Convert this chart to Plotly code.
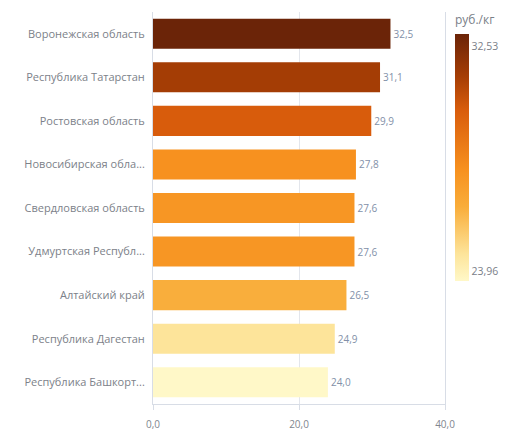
import plotly.graph_objects as go

regions = [
    "Воронежская область",
    "Республика Татарстан",
    "Ростовская область",
    "Новосибирская обла...",
    "Свердловская область",
    "Удмуртская Республ...",
    "Алтайский край",
    "Республика Дагестан",
    "Республика Башкорт...",
]
prices = [32.53, 31.1, 29.9, 27.8, 27.6, 27.6, 26.5, 24.9, 23.96]
x_ticks = [0, 20, 40]
cbar_labels = ["32,53", "23,96"]

colorscale = [
    [0.0, "#fff8c8"],
    [0.11, "#fde49a"],
    [0.30, "#f9ad3a"],
    [0.45, "#f7911f"],
    [0.69, "#d95d0c"],
    [0.83, "#a53d05"],
    [1.0, "#6b2408"],
]

cmin, cmax = min(prices), max(prices)
span = cmax - cmin
# label positions slightly inside the bar ends, as in the reference
cbar_tickvals = [cmax - 0.05 * span, cmin + 0.04 * span]

fig = go.Figure(
    go.Bar(
        x=prices,
        y=regions,
        orientation="h",
        width=0.69,
        marker=dict(
            color=prices,
            colorscale=colorscale,
            cmin=cmin,
            cmax=cmax,
            line=dict(width=0),
            colorbar=dict(
                title=dict(text="руб./кг", side="top",
                           font=dict(family="Open Sans, sans-serif", size=12, color="#7a8088")),
                thickness=14,
                len=0.685,
                lenmode="fraction",
                x=1.034,
                xanchor="left",
                xpad=0,
                y=1.0,
                yanchor="top",
                ypad=0,
                outlinewidth=0,
                tickvals=cbar_tickvals,
                ticktext=cbar_labels,
                ticks="",
                tickfont=dict(family="Open Sans, sans-serif", size=10.5, color="#7a8088"),
            ),
        ),
        texttemplate="%{x:.1f}",
        textposition="outside",
        textfont=dict(family="Open Sans, sans-serif", size=10, color="#8290a8"),
        cliponaxis=False,
    )
)

fig.update_layout(
    width=517,
    height=431,
    margin=dict(l=145, r=80, t=4, b=35, autoexpand=False),
    plot_bgcolor="white",
    paper_bgcolor="white",
    separators=", ",
    font=dict(family="Open Sans, sans-serif", size=9, color="#7a8088"),
    showlegend=False,
    xaxis=dict(
        range=[0, 40],
        tickvals=x_ticks,
        tickformat=".1f",
        showgrid=True,
        gridcolor="#e3e6ec",
        showline=True,
        linecolor="#d8dde6",
        ticks="outside",
        ticklen=5,
        tickcolor="#d8dde6",
        ticklabelstandoff=6,
        tickfont=dict(size=10, color="#80868e"),
        zeroline=False,
    ),
    yaxis=dict(
        autorange="reversed",
        showline=True,
        mirror=True,
        linecolor="#d8dde6",
        ticks="",
        ticklabelstandoff=5,
        tickfont=dict(size=11, color="#7c8189"),
    ),
)

fig.write_html("out.html")
